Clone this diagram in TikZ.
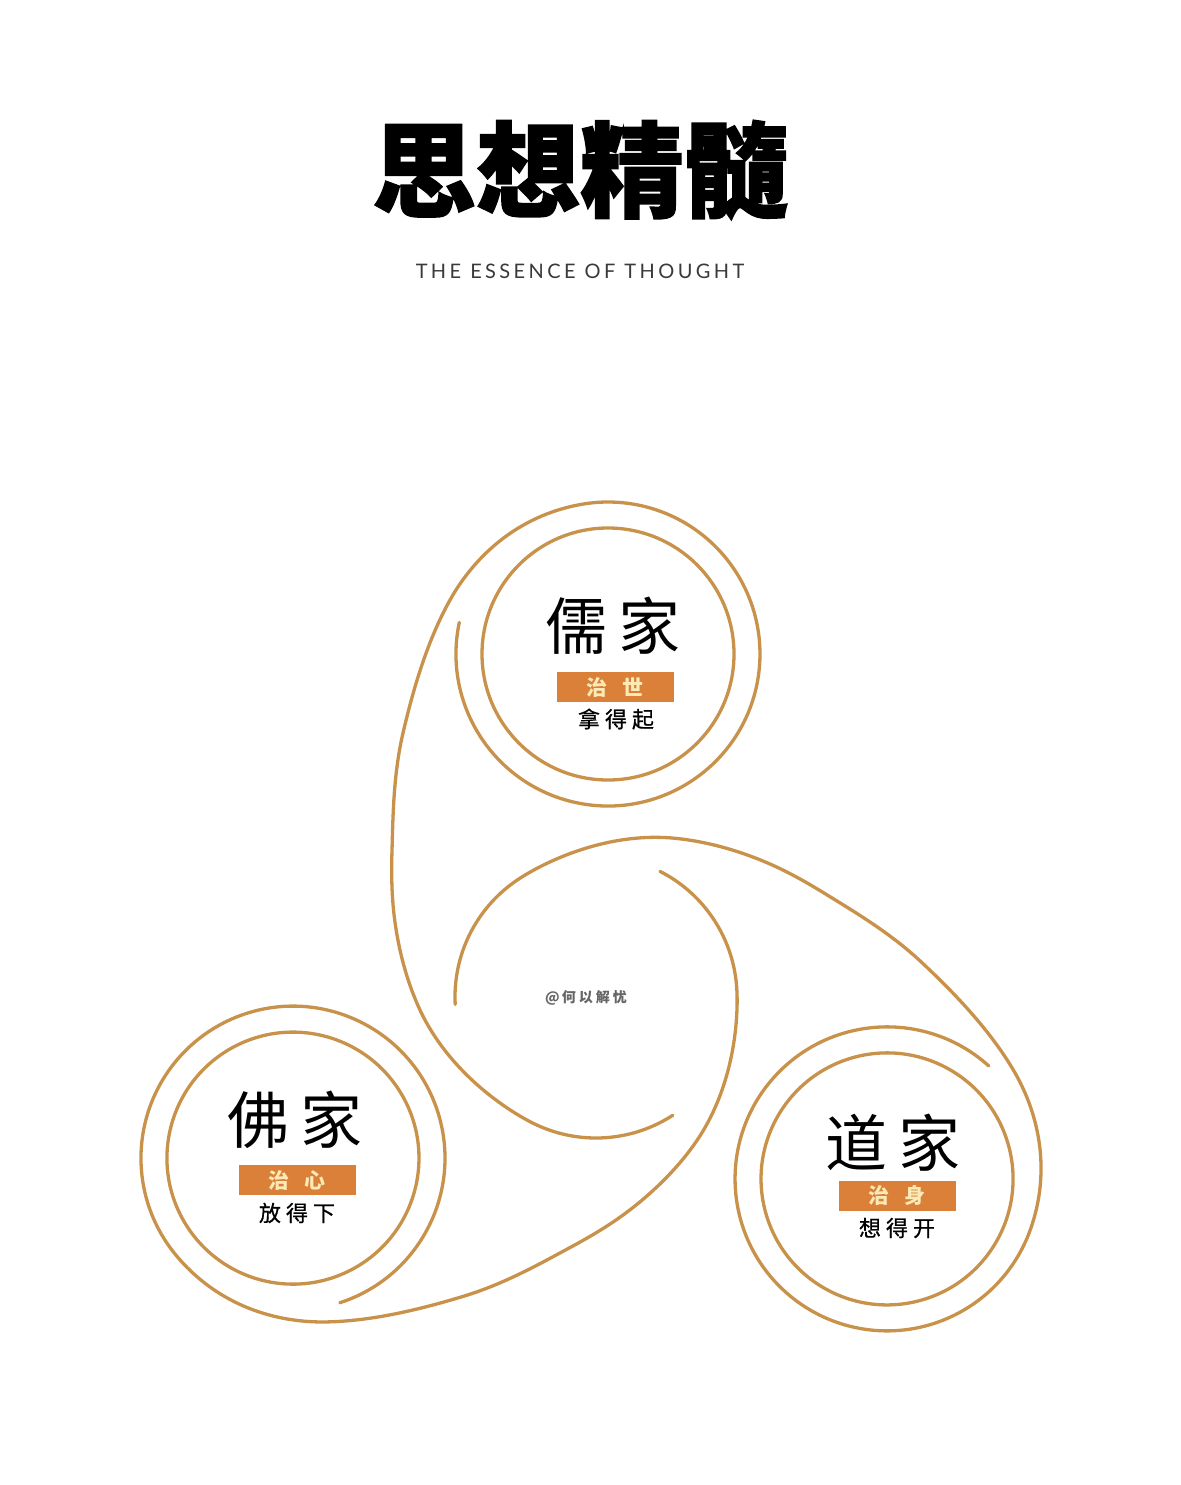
\documentclass[tikz,border=0pt]{standalone}
\usepackage{fontspec}
\newfontfamily\cjk{Noto Sans CJK SC}
\newfontfamily\cjktitle{Noto Sans CJK SC}[FakeBold=1.4]
\newfontfamily\cjkmed{Noto Sans CJK SC}[FakeBold=0.6]
\newfontfamily\subfont{Lato}[LetterSpace=17]
\definecolor{linec}{HTML}{C8924A}
\definecolor{boxc}{HTML}{DA8038}
\definecolor{boxtxt}{HTML}{FBEAB5}
\definecolor{subgray}{HTML}{3A3A3A}
\definecolor{wmgray}{HTML}{666666}
\newcommand\drawarm{%
  \draw[arm] (608,654) circle[radius=126];
  \draw[arm] (459.3,622.4) arc[start angle=192,end angle=-100,radius=152]
    .. controls (515.9,515.9) and (473.3,558.3) .. (450,600)
    .. controls (426.7,641.7) and (412.7,691.3) .. (403,733)
    .. controls (393.3,774.7) and (393,816.3) .. (392,850)
    .. controls (391,883.7) and (392.3,908.3) .. (397,935)
    .. controls (401.7,961.7) and (409.5,987.5) .. (420,1010)
    .. controls (449.6,1073.4) and (509.2,1112.1) .. (536.4,1124.8)
    arc[start angle=115,end angle=57,radius=141];
}
\begin{document}
\begin{tikzpicture}[x=1pt,y=-1pt,
  arm/.style={draw=linec,line width=3.3pt,line cap=round},
  label/.style={inner sep=0pt,font=\cjk\fontsize{62}{62}\selectfont},
  tagbox/.style={fill=boxc,minimum width=117pt,minimum height=30pt,inner sep=0pt,
     text=boxtxt,font=\cjk\bfseries\fontsize{21}{21}\selectfont},
  motto/.style={inner sep=0pt,font=\cjkmed\fontsize{22}{22}\selectfont}]
\fill[white] (0,0) rectangle (1180,1485);
\useasboundingbox (0,0) rectangle (1180,1485);

\drawarm
\begin{scope}[rotate around={-120:(596,997)}]
  \drawarm
\end{scope}
\begin{scope}[rotate around={120:(596,997)}]
  \drawarm
\end{scope}

\node (ttl) at (580,170) {\cjktitle\bfseries\fontsize{104}{104}\selectfont 思想精髓};
\node[text=subgray] (sub) at (580,271) {\subfont\fontsize{20}{20}\selectfont THE\hspace{9pt}ESSENCE\hspace{9pt}OF\hspace{9pt}THOUGHT};

\node[label] (ru) at (613,626) {儒\hspace{12pt}家};
\node[tagbox] (rub) at (615,687) {治\hspace{16pt}世};
\node[motto] (rum) at (616,719) {拿\hspace{5pt}得\hspace{5pt}起};

\node[label] (fo) at (295,1120) {佛\hspace{12pt}家};
\node[tagbox] (fob) at (297,1180) {治\hspace{16pt}心};
\node[motto] (fom) at (297,1213) {放\hspace{5pt}得\hspace{5pt}下};

\node[label] (dao) at (893,1143) {道\hspace{12pt}家};
\node[tagbox] (daob) at (897,1196) {治\hspace{16pt}身};
\node[motto] (daom) at (897,1228) {想\hspace{5pt}得\hspace{5pt}开};

\node[text=wmgray] (wm) at (586,998) {\cjk\bfseries\fontsize{14}{14}\selectfont @\hspace{2pt}何\hspace{3pt}以\hspace{3pt}解\hspace{3pt}忧};
\end{tikzpicture}
\end{document}
